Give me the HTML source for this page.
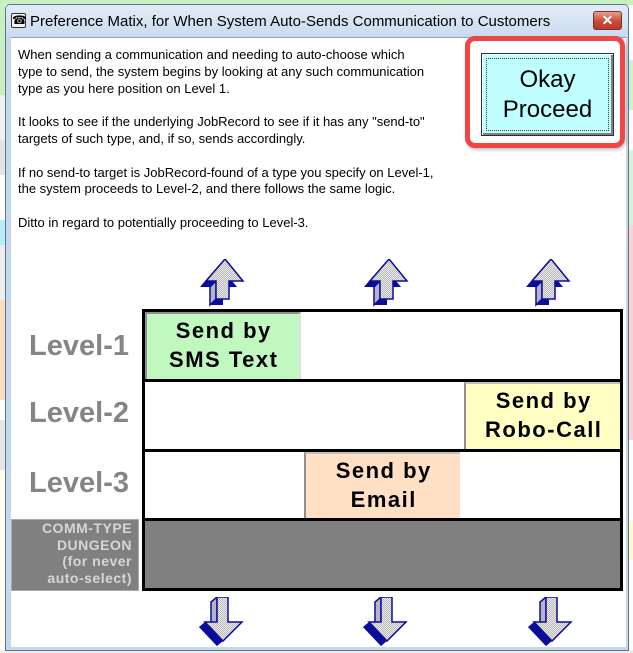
<!DOCTYPE html>
<html><head><meta charset="utf-8">
<style>
html,body{margin:0;padding:0;}
body{width:633px;height:653px;position:relative;overflow:hidden;background:#ffffff;font-family:"Liberation Sans",Arial,sans-serif;}
.a{position:absolute;}
.lvl{position:absolute;left:0;width:129px;text-align:right;font-weight:bold;font-size:29px;line-height:32px;color:#858585;}
.cell{position:absolute;box-sizing:border-box;text-align:center;font-weight:bold;font-size:22px;line-height:29px;letter-spacing:1.5px;padding-left:1.5px;padding-top:2px;color:#000;}
</style></head><body>

<!-- background strips -->
<div class="a" style="left:0;top:0;width:633px;height:5px;background:#c8f0c0"></div>
<div class="a" style="left:0;top:0;width:5px;height:95px;background:#c8f0c0"></div>
<div class="a" style="left:0;top:95px;width:5px;height:45px;background:#f0f0f0"></div>
<div class="a" style="left:0;top:140px;width:5px;height:35px;background:#e4e4e4"></div>
<div class="a" style="left:0;top:220px;width:5px;height:25px;background:#b8ecf8"></div>
<div class="a" style="left:0;top:245px;width:5px;height:55px;background:#eeeeee"></div>
<div class="a" style="left:0;top:300px;width:5px;height:100px;background:#fcdcc0"></div>
<div class="a" style="left:0;top:420px;width:5px;height:50px;background:#e6e6e6"></div>
<div class="a" style="left:0;top:470px;width:5px;height:175px;background:#fffff0"></div>
<div class="a" style="left:629px;top:60px;width:4px;height:50px;background:#d0f0d0"></div>
<div class="a" style="left:629px;top:150px;width:4px;height:75px;background:#d8f4d8"></div>
<div class="a" style="left:629px;top:225px;width:4px;height:215px;background:#f8d4d4"></div>
<div class="a" style="left:629px;top:520px;width:4px;height:40px;background:#fff8d0"></div>
<div class="a" style="left:0;top:650px;width:633px;height:3px;background:#f0f0e0"></div>

<!-- window frame -->
<div class="a" style="left:5px;top:4px;width:622px;height:645px;border:1px solid #5a7494;border-radius:5px 5px 0 0;background:#c6d8ee"></div>
<div class="a" style="left:6px;top:5px;width:622px;height:31px;border-radius:4px 4px 0 0;background:linear-gradient(#e2ecf7,#cbdcef)"></div>
<div class="a" style="left:11px;top:37px;width:615px;height:609px;background:#ffffff;border-top:1px solid #8ea4c0"></div>

<!-- title -->
<div class="a" style="left:11px;top:13px;width:15px;height:15px;box-sizing:border-box;border:1px solid #333;border-radius:2px;background:#f4f4f4;font-family:'DejaVu Sans',sans-serif;font-size:12px;line-height:13px;text-align:center;color:#000">☎</div>
<div class="a" style="left:30px;top:13px;font-size:15px;line-height:18px;color:#000;white-space:nowrap">Preference Matix, for When System Auto-Sends Communication to Customers</div>
<div class="a" style="left:593px;top:11px;width:29px;height:19px;box-sizing:border-box;border:1px solid #7a3228;border-radius:3px;background:linear-gradient(#e8a090,#c84a36 55%,#b83a28);color:#fff;font-weight:bold;font-size:14px;line-height:17px;text-align:center">✕</div>

<!-- paragraph -->
<div class="a" style="left:18px;top:47px;width:440px;font-size:13px;line-height:16.8px;color:#000;white-space:nowrap">
When sending a communication and needing to auto-choose which<br>
type to send, the system begins by looking at any such communication<br>
type as you here position on Level 1.<br><br>
It looks to see if the underlying JobRecord to see if it has any "send-to"<br>
targets of such type, and, if so, sends accordingly.<br><br>
If no send-to target is JobRecord-found of a type you specify on Level-1,<br>
the system proceeds to Level-2, and there follows the same logic.<br><br>
Ditto in regard to potentially proceeding to Level-3.
</div>

<!-- Okay Proceed -->
<div class="a" style="left:465px;top:36px;width:160px;height:112px;box-sizing:border-box;border:5px solid #ee4646;border-radius:10px;box-shadow:1px 2px 3px rgba(0,0,0,0.25)"></div>
<div class="a" style="left:481px;top:53px;width:133px;height:83px;box-sizing:border-box;border:1px solid #303030;background:#c0ffff;box-shadow:inset 1px 1px 0 #ffffff,inset -2px -2px 0 #808080"></div>
<div class="a" style="left:486px;top:58px;width:123px;height:73px;box-sizing:border-box;border:1px dotted #404040"></div>
<div class="a" style="left:481px;top:65px;width:133px;text-align:center;font-size:24px;line-height:30px;color:#000">Okay<br>Proceed</div>

<!-- arrows defs -->
<svg width="0" height="0" style="position:absolute">
<defs>
<pattern id="dith" width="2" height="2" patternUnits="userSpaceOnUse">
<rect width="2" height="2" fill="#ececec"/><rect width="1" height="1" fill="#b8b8b8"/><rect x="1" y="1" width="1" height="1" fill="#b8b8b8"/>
</pattern>
</defs>
</svg>

<!-- up arrows -->
<svg class="a" style="left:196px;top:259px" width="50" height="48" viewBox="0 0 50 48">
<polygon points="23,6 41,28 27,28 27,46 14,46 14,28 4,28" fill="#0c0c9c"/>
<polygon points="29,0 10,22 4,28 23,6" fill="#0c0c9c"/>
<polygon points="20,22 20,40 14,46 14,28" fill="#b4b4c4" stroke="#0c0c9c" stroke-width="1.5"/>
<polygon points="29,0 47,22 33,22 33,40 20,40 20,22 10,22" fill="url(#dith)" stroke="#0c0c9c" stroke-width="1.5"/>
</svg>
<svg class="a" style="left:360px;top:259px" width="50" height="48" viewBox="0 0 50 48">
<polygon points="23,6 41,28 27,28 27,46 14,46 14,28 4,28" fill="#0c0c9c"/>
<polygon points="29,0 10,22 4,28 23,6" fill="#0c0c9c"/>
<polygon points="20,22 20,40 14,46 14,28" fill="#b4b4c4" stroke="#0c0c9c" stroke-width="1.5"/>
<polygon points="29,0 47,22 33,22 33,40 20,40 20,22 10,22" fill="url(#dith)" stroke="#0c0c9c" stroke-width="1.5"/>
</svg>
<svg class="a" style="left:522px;top:259px" width="50" height="48" viewBox="0 0 50 48">
<polygon points="23,6 41,28 27,28 27,46 14,46 14,28 4,28" fill="#0c0c9c"/>
<polygon points="29,0 10,22 4,28 23,6" fill="#0c0c9c"/>
<polygon points="20,22 20,40 14,46 14,28" fill="#b4b4c4" stroke="#0c0c9c" stroke-width="1.5"/>
<polygon points="29,0 47,22 33,22 33,40 20,40 20,22 10,22" fill="url(#dith)" stroke="#0c0c9c" stroke-width="1.5"/>
</svg>

<!-- table -->
<div class="a" style="left:142px;top:309px;width:481px;height:282px;box-sizing:border-box;border:3px solid #000;background:#fff"></div>
<div class="a" style="left:142px;top:379px;width:481px;height:3px;background:#000"></div>
<div class="a" style="left:142px;top:449px;width:481px;height:3px;background:#000"></div>
<div class="a" style="left:142px;top:518px;width:481px;height:3px;background:#000"></div>
<div class="a" style="left:145px;top:521px;width:475px;height:67px;background:#808080"></div>

<div class="cell" style="left:145px;top:312px;width:156px;height:67px;background:#c0f8c0;border-left:2px solid #909090;border-top:2px solid #909090;border-right:2px solid #e0e0e0">Send by<br>SMS Text</div>
<div class="cell" style="left:464px;top:382px;width:156px;height:67px;background:#ffffc4;border-left:2px solid #909090;border-top:2px solid #c0c0c0">Send by<br>Robo-Call</div>
<div class="cell" style="left:304px;top:452px;width:156px;height:66px;background:#ffe0c4;border-left:2px solid #909090;border-top:2px solid #c0c0c0">Send by<br>Email</div>

<!-- level labels -->
<div class="lvl" style="top:330px">Level-1</div>
<div class="lvl" style="top:397px">Level-2</div>
<div class="lvl" style="top:467px">Level-3</div>

<div class="a" style="left:11px;top:519px;width:128px;height:72px;box-sizing:border-box;border:1px solid #a8a8a8;background:#808080"></div>
<div class="a" style="left:11px;top:520px;width:121px;text-align:right;font-weight:bold;font-size:14px;line-height:16.5px;letter-spacing:0.5px;color:#d6d6d6">COMM-TYPE<br>DUNGEON<br>(for never<br>auto-select)</div>

<!-- down arrows -->
<svg class="a" style="left:197px;top:597px" width="50" height="50" viewBox="0 0 50 50">
<polygon points="14,5 25,5 25,30 39,30 20,49 2,30 14,30" fill="#0c0c9c"/>
<polygon points="8,25 2,30 20,49 26,44" fill="#0c0c9c"/>
<polygon points="20,0 20,25 14,30 14,5" fill="#b4b4c4" stroke="#0c0c9c" stroke-width="1.5"/>
<polygon points="20,0 31,0 31,25 45,25 26,44 8,25 20,25" fill="url(#dith)" stroke="#0c0c9c" stroke-width="1.5"/>
</svg>
<svg class="a" style="left:361px;top:597px" width="50" height="50" viewBox="0 0 50 50">
<polygon points="14,5 25,5 25,30 39,30 20,49 2,30 14,30" fill="#0c0c9c"/>
<polygon points="8,25 2,30 20,49 26,44" fill="#0c0c9c"/>
<polygon points="20,0 20,25 14,30 14,5" fill="#b4b4c4" stroke="#0c0c9c" stroke-width="1.5"/>
<polygon points="20,0 31,0 31,25 45,25 26,44 8,25 20,25" fill="url(#dith)" stroke="#0c0c9c" stroke-width="1.5"/>
</svg>
<svg class="a" style="left:526px;top:597px" width="50" height="50" viewBox="0 0 50 50">
<polygon points="14,5 25,5 25,30 39,30 20,49 2,30 14,30" fill="#0c0c9c"/>
<polygon points="8,25 2,30 20,49 26,44" fill="#0c0c9c"/>
<polygon points="20,0 20,25 14,30 14,5" fill="#b4b4c4" stroke="#0c0c9c" stroke-width="1.5"/>
<polygon points="20,0 31,0 31,25 45,25 26,44 8,25 20,25" fill="url(#dith)" stroke="#0c0c9c" stroke-width="1.5"/>
</svg>

</body></html>
